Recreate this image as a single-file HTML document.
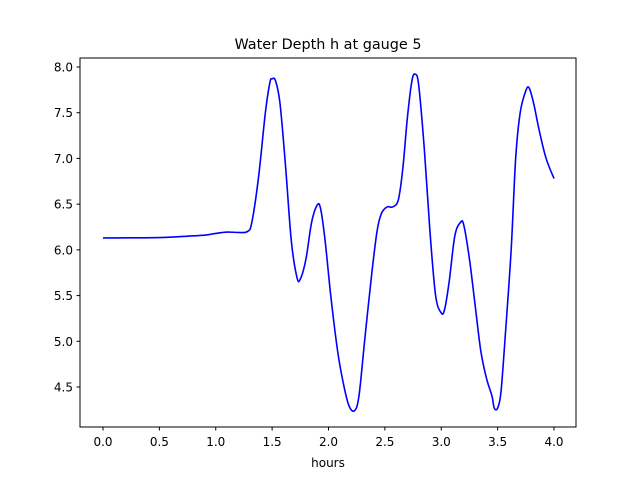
<!DOCTYPE html>
<html><head><meta charset="utf-8"><style>
body{margin:0;background:#fff}
svg text{font-family:"DejaVu Sans","Liberation Sans",sans-serif;fill:#000}
</style></head><body>
<svg id="chart" width="640" height="480" viewBox="0 0 640 480" xmlns="http://www.w3.org/2000/svg">
<rect width="640" height="480" fill="#fff"/>
<text x="328" y="49" font-size="14.4" text-anchor="middle">Water Depth h at gauge 5</text>
<g id="plot"></g>
<rect x="80" y="58" width="496" height="369" fill="none" stroke="#000" stroke-width="1"/>
<text x="328" y="467" font-size="12" text-anchor="middle">hours</text>
</svg>
<script>
const hours=[0,0.5,0.75,0.9,1.0,1.1,1.2,1.28,1.32,1.38,1.44,1.48,1.5,1.53,1.57,1.62,1.67,1.72,1.75,1.8,1.85,1.9,1.93,1.97,2.02,2.08,2.13,2.18,2.23,2.27,2.32,2.38,2.43,2.47,2.52,2.57,2.62,2.66,2.7,2.74,2.77,2.8,2.85,2.9,2.95,3.0,3.03,3.07,3.12,3.17,3.2,3.25,3.3,3.35,3.4,3.45,3.47,3.5,3.53,3.57,3.62,3.66,3.7,3.75,3.78,3.82,3.87,3.93,4.0];
const depth=[6.13,6.135,6.15,6.16,6.18,6.195,6.19,6.2,6.3,6.8,7.5,7.83,7.87,7.85,7.6,6.9,6.1,5.7,5.68,5.9,6.3,6.49,6.45,6.1,5.5,4.9,4.55,4.3,4.24,4.4,5.0,5.7,6.2,6.4,6.47,6.47,6.55,6.9,7.45,7.85,7.92,7.8,7.1,6.2,5.5,5.31,5.35,5.65,6.15,6.3,6.27,5.9,5.4,4.9,4.6,4.4,4.27,4.27,4.45,5.1,6.0,7.0,7.5,7.74,7.77,7.6,7.3,7.0,6.78];
const xTicks=[0,0.5,1,1.5,2,2.5,3,3.5,4];
const yTicks=[4.5,5,5.5,6,6.5,7,7.5,8];
const xs=v=>103+v*112.75;
const ys=v=>67+(8-v)*91.43;
const ns="http://www.w3.org/2000/svg";
const g=document.getElementById('plot');
function mk(t,a){const e=document.createElementNS(ns,t);for(const k in a)e.setAttribute(k,a[k]);g.appendChild(e);return e;}
xTicks.forEach(t=>{
 const l=mk('line',{x1:xs(t),x2:xs(t),y1:427,y2:430.5,stroke:'#000'});
 
 
 const tx=mk('text',{x:xs(t),y:446,'font-size':12,'text-anchor':'middle'});
 tx.textContent=t.toFixed(1);
 
 
});
yTicks.forEach(t=>{
 const l=mk('line',{x1:76.5,x2:80,y1:ys(t),y2:ys(t),stroke:'#000'});
 
 
 const tx=mk('text',{x:73,y:ys(t)+4.5,'font-size':12,'text-anchor':'end'});
 tx.textContent=t.toFixed(1);
 
 
});
const P=hours.map((h,i)=>[xs(h),ys(depth[i])]);
let d='M'+P[0][0]+','+P[0][1];
for(let i=0;i<P.length-1;i++){
 const p0=P[i-1]||P[i],p1=P[i],p2=P[i+1],p3=P[i+2]||p2;
 const c1=[p1[0]+(p2[0]-p0[0])/6,p1[1]+(p2[1]-p0[1])/6];
 const c2=[p2[0]-(p3[0]-p1[0])/6,p2[1]-(p3[1]-p1[1])/6];
 d+=` C${c1[0]},${c1[1]} ${c2[0]},${c2[1]} ${p2[0]},${p2[1]}`;
}
const path=mk('path',{d:d,fill:'none',stroke:'#0000ff','stroke-width':1.6});


</script>
</body></html>
